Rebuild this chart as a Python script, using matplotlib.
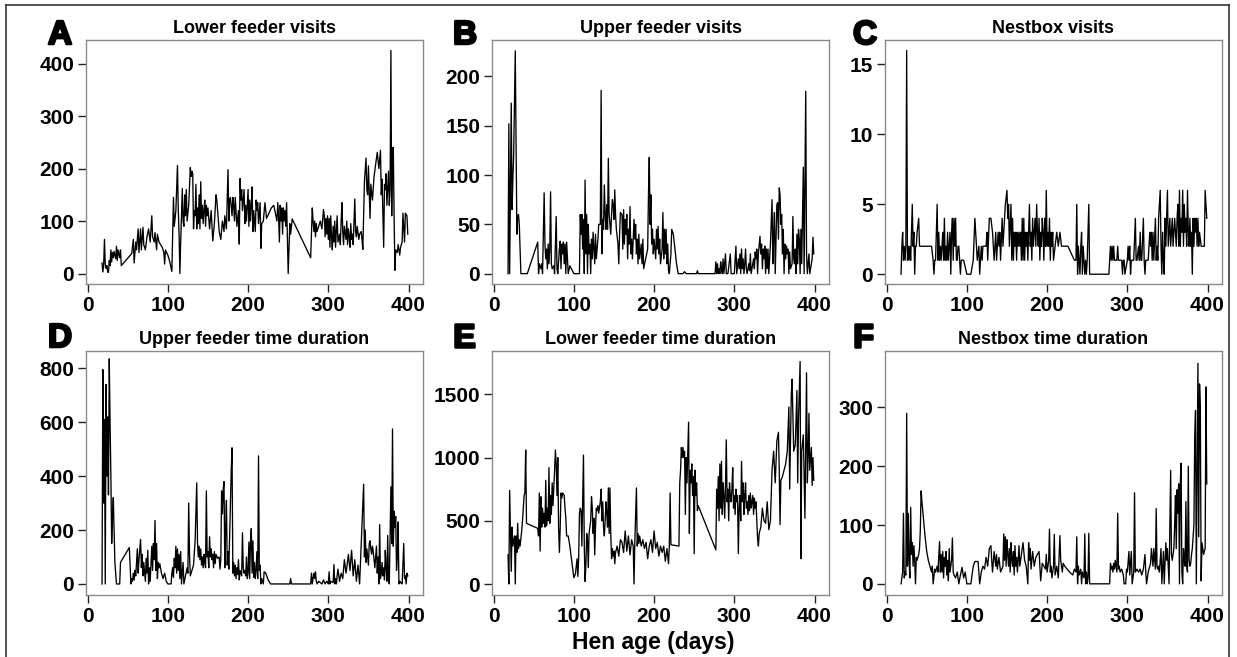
import matplotlib
matplotlib.use("Agg")
import matplotlib.pyplot as plt
import numpy as np
from matplotlib.lines import Line2D
import matplotlib.patheffects as pe

plt.rcParams['font.family'] = ['Liberation Sans', 'DejaVu Sans']

W, H = 1237, 657

# ---------------- A: lower feeder visits ----------------
lower_visits_day = [
    18, 19, 20, 21, 22, 23, 24, 25, 26, 27,
    28, 29, 30, 31, 32, 33, 34, 35, 36, 37,
    38, 40, 41, 42, 55, 57, 58, 60, 61, 63,
    64, 66, 67, 69, 70, 72, 74, 76, 78, 80,
    81, 83, 84, 86, 87, 89, 91, 93, 95, 96,
    97, 100, 102, 105, 107, 108, 110, 112, 113, 114,
    115, 116, 118, 119, 120, 121, 122, 123, 124, 126,
    128, 129, 130, 131, 132, 133, 134, 135, 136, 137,
    138, 139, 140, 141, 142, 143, 144, 145, 146, 147,
    148, 149, 150, 152, 154, 156, 158, 160, 161, 162,
    164, 166, 168, 170, 171, 173, 175, 176, 177, 178,
    180, 181, 182, 183, 184, 186, 188, 189, 190, 191,
    192, 193, 195, 196, 197, 198, 200, 201, 202, 203,
    204, 205, 206, 207, 208, 209, 210, 211, 212, 213,
    215, 216, 217, 219, 221, 223, 226, 229, 232, 236,
    237, 238, 239, 240, 241, 242, 243, 244, 245, 246,
    247, 248, 250, 252, 253, 255, 278, 280, 281, 282,
    283, 284, 285, 286, 288, 290, 292, 294, 295, 296,
    297, 298, 299, 300, 301, 302, 303, 304, 305, 306,
    307, 308, 309, 310, 311, 312, 314, 315, 316, 317,
    318, 319, 320, 322, 323, 324, 325, 326, 327, 328,
    329, 330, 331, 333, 334, 335, 336, 338, 339, 341,
    342, 343, 345, 347, 348, 349, 350, 352, 353, 355,
    357, 361, 363, 365, 366, 367, 369, 370, 371, 372,
    373, 375, 376, 377, 378, 379, 380, 381, 382, 383,
    384, 386, 387, 389, 390, 392, 393, 395, 396, 398, 399]
lower_visits = [
    20, 3, 15, 65, 18, 10, 15, 3, 2, 25,
    15, 45, 22, 40, 30, 42, 35, 28, 52, 25,
    45, 30, 45, 15, 38, 65, 20, 60, 45, 85,
    40, 85, 45, 88, 55, 45, 70, 85, 60, 110,
    70, 60, 78, 45, 75, 60, 55, 50, 40, 18,
    45, 35, 25, 4, 145, 90, 120, 206, 120, 75,
    0, 60, 162, 100, 90, 150, 110, 160, 100, 130,
    202, 185, 195, 190, 85, 120, 110, 170, 85, 125,
    95, 150, 85, 175, 105, 130, 95, 120, 140, 90,
    130, 110, 125, 85, 120, 62, 95, 150, 140, 120,
    80, 65, 100, 80, 110, 85, 198, 100, 140, 145,
    110, 145, 130, 100, 145, 90, 120, 56, 181, 140,
    160, 120, 160, 95, 130, 100, 160, 90, 140, 100,
    130, 165, 80, 120, 100, 80, 140, 120, 135, 95,
    135, 48, 95, 100, 135, 105, 115, 125, 130, 100,
    135, 110, 60, 130, 100, 125, 75, 125, 100, 120,
    90, 135, 0, 95, 75, 104, 30, 125, 100, 80,
    100, 70, 95, 80, 90, 100, 85, 122, 110, 70,
    105, 75, 110, 65, 105, 50, 110, 70, 45, 90,
    60, 100, 50, 80, 110, 60, 75, 55, 100, 135,
    80, 55, 90, 65, 100, 55, 85, 70, 50, 95,
    65, 75, 55, 142, 80, 70, 90, 65, 75, 80,
    65, 46, 175, 220, 160, 150, 205, 105, 170, 140,
    185, 231, 200, 235, 150, 180, 50, 170, 160, 190,
    130, 195, 130, 160, 425, 110, 240, 240, 105, 6,
    45, 40, 55, 35, 50, 60, 115, 60, 115, 110, 75]

# ---------------- B: upper feeder visits ----------------
upper_visits_day = [
    18, 19, 20, 22, 23, 24, 25, 26, 27, 28,
    29, 30, 31, 32, 33, 34, 36, 40, 42, 55,
    56, 57, 59, 60, 61, 63, 64, 65, 66, 67,
    68, 69, 70, 71, 72, 73, 75, 76, 78, 79,
    80, 82, 83, 84, 85, 86, 87, 88, 89, 90,
    91, 93, 95, 100, 107, 108, 109, 110, 111, 112,
    113, 114, 115, 116, 117, 118, 119, 120, 121, 122,
    123, 124, 125, 126, 127, 128, 130, 131, 133, 134,
    135, 136, 137, 138, 139, 140, 141, 142, 143, 144,
    145, 146, 147, 148, 149, 150, 151, 152, 153, 155,
    156, 157, 158, 160, 161, 162, 163, 164, 165, 166,
    167, 168, 169, 170, 171, 172, 173, 175, 176, 177,
    178, 179, 180, 181, 182, 184, 185, 186, 187, 192,
    193, 194, 195, 196, 197, 198, 199, 200, 201, 202,
    203, 204, 205, 206, 207, 208, 210, 211, 212, 213,
    214, 215, 216, 217, 218, 219, 221, 222, 224, 226,
    228, 230, 236, 238, 240, 253, 254, 255, 276, 277,
    278, 279, 280, 281, 282, 283, 284, 285, 286, 287,
    289, 290, 292, 295, 296, 300, 302, 303, 305, 306,
    307, 308, 309, 310, 311, 312, 313, 314, 315, 316,
    318, 319, 320, 321, 322, 324, 325, 326, 327, 328,
    329, 330, 332, 333, 334, 335, 336, 337, 338, 339,
    340, 341, 342, 343, 345, 347, 348, 349, 350, 351,
    352, 353, 354, 355, 356, 357, 358, 359, 360, 361,
    362, 363, 364, 365, 366, 367, 368, 369, 370, 372,
    373, 374, 375, 376, 377, 378, 379, 380, 381, 382,
    383, 384, 386, 387, 389, 390, 391, 393, 394, 396, 397, 398, 399]
upper_visits = [
    0, 152, 0, 173, 65, 95, 120, 175, 226, 130,
    40, 58, 60, 50, 25, 0, 0, 0, 0, 32,
    0, 10, 5, 10, 0, 82, 30, 15, 25, 5,
    30, 10, 25, 83, 10, 5, 8, 0, 58, 5,
    0, 25, 33, 5, 30, 20, 32, 10, 30, 0,
    32, 0, 8, 0, 0, 60, 40, 60, 25, 55,
    0, 95, 20, 60, 0, 50, 20, 30, 0, 35,
    15, 42, 25, 10, 40, 15, 35, 50, 50, 186,
    20, 55, 45, 90, 60, 45, 70, 45, 117, 60,
    50, 40, 60, 75, 70, 55, 85, 60, 45, 30,
    10, 40, 62, 60, 25, 65, 30, 55, 40, 60,
    15, 45, 30, 68, 20, 35, 15, 55, 35, 50,
    20, 35, 10, 40, 15, 30, 10, 35, 5, 25,
    80, 118, 50, 80, 30, 45, 20, 35, 25, 15,
    45, 25, 48, 20, 35, 10, 25, 62, 15, 45,
    20, 45, 10, 30, 3, 0, 20, 45, 40, 25,
    10, 0, 0, 2, 0, 0, 3, 0, 0, 12,
    0, 10, 0, 5, 0, 12, 5, 0, 15, 0,
    20, 0, 0, 20, 0, 0, 28, 0, 15, 5,
    20, 0, 25, 5, 15, 0, 10, 25, 5, 0,
    10, 3, 20, 0, 5, 15, 5, 22, 15, 25,
    0, 20, 38, 20, 30, 5, 25, 15, 28, 0,
    25, 5, 25, 0, 30, 75, 10, 40, 62, 0,
    35, 70, 72, 35, 87, 80, 50, 60, 20, 45,
    0, 30, 15, 28, 20, 25, 0, 22, 5, 10,
    58, 15, 10, 25, 0, 40, 10, 45, 35, 0,
    45, 10, 108, 0, 185, 20, 0, 20, 0, 10, 15, 37, 20]

# ---------------- C: nestbox visits ----------------
nest_visits_day = [
    18, 19, 20, 21, 22, 23, 24, 25, 26, 27,
    28, 29, 30, 32, 33, 34, 35, 36, 37, 38,
    40, 41, 42, 55, 56, 58, 59, 60, 61, 63,
    64, 65, 66, 67, 68, 70, 71, 72, 73, 74,
    75, 76, 77, 79, 80, 81, 82, 83, 84, 85,
    86, 87, 88, 89, 90, 91, 92, 93, 96, 100,
    105, 108, 110, 112, 113, 115, 116, 117, 118, 119,
    120, 122, 124, 125, 126, 128, 130, 132, 134, 135,
    136, 137, 139, 140, 141, 142, 144, 145, 146, 148,
    150, 151, 152, 153, 155, 156, 157, 158, 159, 160,
    161, 162, 163, 164, 165, 166, 167, 168, 169, 170,
    171, 172, 173, 174, 175, 176, 178, 179, 180, 181,
    182, 183, 184, 185, 186, 187, 188, 189, 190, 191,
    192, 193, 194, 195, 196, 197, 198, 199, 200, 201,
    202, 203, 204, 205, 206, 207, 208, 210, 212, 214,
    216, 218, 220, 222, 226, 230, 234, 236, 237, 238,
    239, 240, 241, 242, 243, 244, 245, 246, 247, 248,
    249, 250, 252, 253, 255, 277, 278, 279, 280, 281,
    282, 283, 284, 287, 288, 289, 290, 293, 294, 295,
    296, 297, 300, 301, 302, 303, 304, 305, 307, 308,
    310, 311, 312, 314, 315, 316, 317, 318, 320, 321,
    322, 323, 324, 326, 327, 328, 329, 330, 331, 332,
    333, 335, 336, 337, 338, 339, 341, 342, 343, 344,
    345, 346, 347, 348, 349, 350, 351, 352, 353, 354,
    355, 356, 357, 358, 359, 360, 361, 362, 363, 364,
    365, 366, 367, 368, 369, 370, 371, 372, 373, 374,
    375, 376, 377, 378, 379, 380, 381, 382, 383, 384,
    385, 386, 387, 388, 389, 390, 392, 394, 396, 397, 399]
nest_visits = [
    0, 2, 3, 1, 2, 1, 2, 16, 1, 2,
    1, 2, 1, 5, 2, 3, 0, 2, 2, 3,
    4, 2, 2, 2, 2, 1, 0, 1, 1, 5,
    1, 3, 1, 2, 1, 3, 1, 4, 1, 2,
    1, 3, 1, 3, 0, 3, 4, 1, 4, 2,
    4, 1, 1, 2, 2, 1, 0, 1, 1, 0,
    0, 1, 4, 2, 1, 2, 0, 1, 2, 1,
    2, 2, 2, 3, 1, 4, 4, 3, 1, 2,
    3, 1, 3, 2, 3, 1, 4, 2, 3, 5,
    6, 4, 5, 2, 5, 1, 4, 1, 3, 2,
    3, 1, 3, 2, 3, 2, 3, 1, 4, 1,
    4, 1, 3, 2, 3, 1, 5, 2, 3, 1,
    4, 2, 3, 4, 2, 5, 3, 2, 4, 1,
    3, 2, 4, 3, 1, 4, 2, 6, 2, 3,
    2, 4, 1, 3, 2, 3, 1, 2, 3, 2,
    3, 2, 2, 2, 2, 1.5, 1, 1, 5, 0,
    2, 1, 0, 2, 3, 0, 2, 1, 0, 1,
    0, 1, 5, 0, 0, 0, 1, 2, 1, 2,
    1, 2, 1, 1, 2, 1, 1, 1, 0, 1,
    1, 0, 1, 2, 1, 2, 0, 1, 1, 1,
    4, 1, 1, 2, 1, 3, 1, 1, 4, 1,
    0, 1, 1, 1, 2, 3, 2, 3, 1, 3,
    1, 4, 1, 2, 1, 4, 6, 2, 0, 3,
    1, 0, 4, 2, 4, 6, 2, 3, 4, 2,
    3, 4, 2, 3, 4, 3, 2, 4, 5, 2,
    6, 2, 4, 3, 6, 2, 5, 3, 4, 2,
    6, 3, 2, 4, 2, 3, 0, 4, 2, 4,
    3, 4, 2, 4, 2, 3, 2, 2, 2, 6, 4]

# ---------------- D: upper feeder time duration ----------------
upper_time_day = [
    18, 19, 20, 21, 22, 23, 24, 25, 26, 27,
    28, 29, 30, 31, 32, 33, 34, 36, 38, 40,
    41, 45, 52, 54, 55, 56, 57, 58, 59, 60,
    62, 63, 64, 66, 67, 68, 69, 70, 72, 73,
    74, 75, 76, 77, 78, 80, 81, 82, 83, 84,
    85, 86, 87, 88, 89, 90, 92, 94, 96, 98,
    100, 104, 105, 106, 107, 108, 109, 110, 111, 112,
    113, 114, 115, 116, 117, 119, 120, 122, 124, 125,
    126, 127, 128, 130, 132, 134, 136, 137, 138, 139,
    140, 141, 142, 143, 144, 145, 146, 147, 148, 149,
    150, 151, 152, 153, 154, 155, 156, 157, 158, 159,
    160, 162, 164, 165, 166, 167, 168, 169, 170, 171,
    172, 173, 174, 175, 176, 178, 179, 180, 181, 182,
    183, 184, 185, 186, 187, 188, 189, 190, 192, 193,
    194, 195, 196, 197, 198, 199, 200, 201, 202, 203,
    204, 205, 206, 207, 208, 209, 210, 211, 212, 213,
    214, 215, 216, 217, 219, 220, 222, 225, 228, 252,
    253, 254, 278, 279, 280, 282, 283, 284, 285, 286,
    288, 290, 292, 294, 296, 298, 300, 301, 302, 303,
    306, 307, 308, 309, 310, 311, 312, 314, 316, 318,
    320, 322, 323, 325, 327, 329, 331, 333, 335, 337,
    339, 344, 345, 346, 347, 348, 349, 350, 351, 352,
    353, 354, 355, 356, 358, 360, 361, 362, 363, 364,
    365, 366, 367, 368, 369, 370, 371, 372, 373, 374,
    375, 376, 378, 379, 380, 381, 382, 383, 384, 385,
    386, 387, 388, 389, 390, 392, 394, 395, 396, 397, 398, 399]
upper_time = [
    0, 795, 300, 610, 0, 740, 400, 620, 330, 835,
    600, 400, 150, 250, 320, 200, 80, 0, 0, 0,
    80, 100, 135, 0, 20, 10, 40, 15, 50, 30,
    130, 40, 90, 165, 60, 110, 30, 80, 10, 95,
    40, 125, 0, 60, 10, 140, 50, 150, 90, 235,
    50, 150, 20, 80, 60, 75, 40, 20, 40, 10,
    0, 0, 40, 60, 25, 95, 60, 140, 40, 130,
    50, 110, 20, 120, 0, 80, 0, 30, 60, 40,
    300, 110, 30, 50, 70, 160, 375, 150, 100, 140,
    90, 130, 70, 100, 60, 110, 80, 60, 345, 100,
    120, 60, 175, 100, 130, 90, 110, 60, 120, 75,
    110, 95, 100, 55, 90, 345, 260, 350, 380, 60,
    200, 310, 70, 120, 55, 300, 420, 505, 40, 80,
    30, 70, 20, 60, 35, 90, 15, 50, 30, 190,
    60, 40, 50, 30, 100, 20, 40, 155, 20, 160,
    205, 40, 160, 25, 80, 20, 50, 120, 20, 475,
    50, 70, 0, 20, 0, 45, 40, 15, 0, 0,
    20, 0, 0, 40, 0, 40, 20, 45, 10, 0,
    10, 5, 0, 15, 0, 10, 0, 45, 0, 10,
    5, 72, 0, 20, 0, 30, 55, 10, 40, 20,
    90, 40, 60, 110, 50, 125, 30, 90, 10, 70,
    0, 370, 100, 200, 80, 130, 100, 70, 150, 160,
    130, 110, 140, 120, 60, 140, 40, 100, 0, 220,
    20, 40, 80, 30, 60, 15, 125, 60, 10, 180,
    20, 0, 360, 150, 575, 140, 270, 210, 250, 50,
    100, 230, 0, 10, 5, 0, 150, 20, 30, 0, 40, 30]

# ---------------- E: lower feeder time duration ----------------
lower_time_day = [
    18, 19, 20, 21, 22, 23, 24, 26, 27, 28,
    29, 30, 31, 32, 33, 35, 36, 37, 38, 39,
    40, 41, 55, 56, 57, 58, 59, 60, 61, 62,
    63, 64, 65, 66, 67, 68, 69, 70, 71, 72,
    73, 74, 76, 77, 78, 79, 80, 81, 82, 83,
    84, 85, 86, 88, 89, 90, 91, 93, 95, 97,
    99, 100, 102, 104, 105, 106, 107, 108, 109, 110,
    111, 112, 113, 114, 115, 116, 117, 118, 119, 121,
    122, 123, 124, 125, 126, 127, 128, 129, 130, 131,
    133, 134, 135, 136, 137, 138, 139, 140, 141, 142,
    143, 144, 145, 146, 147, 148, 149, 150, 151, 152,
    154, 156, 158, 160, 162, 164, 166, 168, 170, 172,
    174, 175, 176, 178, 179, 180, 181, 182, 184, 186,
    188, 190, 192, 194, 196, 198, 200, 202, 204, 206,
    208, 210, 212, 214, 216, 218, 219, 220, 221, 231,
    232, 233, 234, 235, 236, 237, 238, 239, 240, 241,
    242, 243, 244, 245, 246, 247, 248, 249, 250, 251,
    252, 253, 254, 255, 277, 278, 279, 280, 281, 282,
    283, 284, 285, 286, 287, 288, 289, 290, 291, 292,
    293, 294, 295, 296, 297, 298, 299, 300, 301, 302,
    303, 304, 305, 306, 307, 308, 309, 310, 311, 312,
    313, 314, 315, 316, 317, 318, 319, 320, 321, 322,
    323, 324, 325, 326, 327, 328, 329, 330, 331, 333,
    335, 337, 339, 341, 343, 345, 347, 349, 351, 353,
    355, 356, 357, 358, 360, 362, 364, 366, 368, 369,
    371, 372, 374, 376, 378, 379, 380, 382, 383, 384,
    386, 388, 390, 391, 392, 393, 394, 396, 397, 398, 399]
lower_time = [
    230, 0, 740, 400, 100, 450, 300, 380, 0, 380,
    250, 480, 280, 350, 300, 420, 500, 600, 700, 720,
    1060, 480, 440, 380, 720, 260, 690, 450, 600, 480,
    560, 450, 820, 460, 600, 500, 920, 480, 700, 550,
    800, 620, 900, 1060, 950, 700, 1000, 440, 250, 450,
    720, 680, 720, 700, 600, 520, 380, 380, 300, 200,
    100, 50, 80, 200, 60, 200, 560, 600, 580, 300,
    650, 1020, 300, 20, 150, 400, 350, 130, 400, 500,
    690, 600, 400, 520, 230, 450, 600, 580, 620, 560,
    650, 750, 500, 650, 450, 380, 500, 650, 560, 450,
    760, 400, 760, 400, 200, 280, 220, 260, 160, 250,
    300, 220, 350, 330, 250, 420, 260, 380, 230, 350,
    300, 0, 330, 760, 300, 400, 320, 380, 300, 350,
    280, 330, 200, 300, 350, 250, 420, 280, 330, 220,
    300, 250, 300, 180, 280, 160, 300, 720, 310, 300,
    800, 900, 1080, 1000, 1080, 1000, 1050, 550, 1000, 800,
    1050, 1280, 400, 900, 800, 950, 700, 850, 240, 900,
    700, 800, 580, 620, 270, 750, 600, 850, 500, 950,
    600, 970, 550, 800, 700, 520, 780, 1140, 650, 750,
    500, 800, 700, 650, 750, 920, 600, 700, 550, 750,
    650, 700, 240, 600, 700, 500, 970, 650, 800, 550,
    700, 800, 600, 650, 550, 700, 580, 720, 600, 650,
    700, 550, 680, 600, 650, 500, 360, 300, 400, 450,
    600, 500, 480, 650, 430, 500, 900, 1050, 800, 1130,
    1200, 900, 470, 820, 850, 900, 950, 1050, 1400, 750,
    1500, 1620, 1050, 1100, 1530, 800, 1300, 1760, 200, 1050,
    1180, 520, 1670, 800, 1000, 1350, 900, 1080, 780, 1000, 820]

# ---------------- F: nestbox time duration ----------------
nest_time_day = [
    18, 19, 20, 21, 22, 23, 24, 25, 26, 27,
    28, 29, 30, 31, 32, 33, 34, 35, 36, 37,
    38, 40, 41, 42, 43, 44, 46, 48, 50, 52,
    54, 56, 57, 58, 60, 61, 63, 64, 66, 67,
    68, 69, 70, 71, 72, 73, 74, 75, 76, 77,
    78, 79, 81, 82, 83, 84, 86, 88, 90, 92,
    94, 96, 98, 100, 105, 108, 110, 114, 116, 118,
    120, 122, 124, 126, 128, 130, 131, 132, 134, 136,
    137, 138, 140, 142, 145, 146, 147, 148, 149, 150,
    151, 152, 153, 154, 155, 156, 157, 158, 159, 160,
    161, 162, 163, 164, 165, 166, 167, 170, 172, 174,
    176, 177, 178, 179, 180, 182, 184, 186, 190, 192,
    194, 196, 198, 199, 200, 202, 203, 204, 205, 206,
    208, 209, 210, 212, 214, 216, 217, 218, 219, 220,
    222, 225, 228, 232, 234, 236, 237, 238, 239, 240,
    242, 243, 244, 246, 247, 248, 249, 250, 251, 252,
    253, 254, 276, 278, 279, 280, 281, 282, 283, 284,
    285, 287, 288, 289, 290, 291, 293, 295, 296, 298,
    299, 300, 302, 303, 305, 306, 308, 309, 310, 312,
    314, 316, 318, 320, 322, 323, 324, 326, 327, 329,
    330, 332, 333, 335, 336, 337, 338, 339, 340, 342,
    343, 345, 346, 348, 349, 350, 352, 354, 355, 356,
    358, 359, 360, 361, 362, 363, 364, 365, 366, 367,
    368, 369, 370, 371, 372, 373, 374, 375, 376, 377,
    378, 379, 380, 381, 383, 384, 385, 386, 388, 389,
    390, 391, 392, 393, 394, 395, 396, 397, 398, 399]
nest_time = [
    0, 10, 20, 120, 10, 20, 15, 290, 30, 120,
    40, 10, 130, 50, 70, 30, 65, 40, 0, 45,
    40, 50, 60, 90, 158, 140, 110, 80, 55, 40,
    30, 20, 30, 0, 25, 20, 30, 20, 72, 20,
    50, 20, 55, 10, 45, 30, 55, 15, 40, 5,
    60, 20, 40, 78, 20, 15, 10, 20, 0, 15,
    28, 10, 20, 0, 0, 30, 38, 38, 0, 20,
    30, 25, 45, 30, 60, 65, 40, 20, 55, 30,
    50, 25, 45, 20, 30, 85, 40, 80, 30, 75,
    50, 30, 60, 20, 70, 40, 30, 55, 15, 65,
    30, 45, 20, 40, 65, 30, 40, 70, 40, 30,
    0, 70, 40, 60, 25, 55, 30, 45, 55, 5,
    35, 30, 25, 50, 20, 40, 93, 20, 30, 10,
    30, 84, 15, 30, 10, 82, 40, 30, 20, 35,
    30, 25, 20, 15, 25, 20, 80, 0, 30, 15,
    25, 0, 20, 10, 85, 0, 20, 0, 10, 86,
    0, 0, 0, 0, 35, 25, 30, 20, 35, 25,
    40, 20, 120, 25, 30, 20, 25, 15, 0, 0,
    25, 20, 55, 15, 55, 0, 20, 155, 20, 25,
    20, 25, 15, 25, 50, 20, 0, 20, 25, 35,
    60, 30, 60, 25, 128, 30, 25, 30, 20, 60,
    0, 55, 0, 70, 40, 60, 0, 193, 50, 40,
    60, 100, 150, 60, 160, 120, 170, 0, 170, 205,
    20, 0, 60, 40, 30, 140, 30, 20, 200, 40,
    30, 35, 50, 60, 100, 250, 295, 0, 375, 80,
    340, 300, 5, 70, 60, 50, 55, 60, 335, 170]

panels = [
    ("A", "Lower feeder visits", lower_visits_day, lower_visits, (-20, 445), [0, 100, 200, 300, 400]),
    ("B", "Upper feeder visits", upper_visits_day, upper_visits, (-10.5, 237), [0, 50, 100, 150, 200]),
    ("C", "Nestbox visits", nest_visits_day, nest_visits, (-0.7, 16.75), [0, 5, 10, 15]),
    ("D", "Upper feeder time duration", upper_time_day, upper_time, (-41, 864), [0, 200, 400, 600, 800]),
    ("E", "Lower feeder time duration", lower_time_day, lower_time, (-87, 1843), [0, 500, 1000, 1500]),
    ("F", "Nestbox time duration", nest_time_day, nest_time, (-19, 396), [0, 100, 200, 300]),
]

# axes boxes in pixels: (left, top)
col_left = [86, 492, 885]
row_top = [40, 351]
box_w, box_h = 337, 244
letter_x = [48, 453, 853]
letter_base = [44, 347]

fig = plt.figure(figsize=(W / 100, H / 100), dpi=100)

for i, (letter, title, days, vals, ylim, yticks) in enumerate(panels):
    r, c = divmod(i, 3)
    left = col_left[c]
    top = row_top[r]
    ax = fig.add_axes([left / W, 1 - (top + box_h) / H, box_w / W, box_h / H])
    ax.plot(np.asarray(days), np.asarray(vals, dtype=float), color="black", lw=0.95)
    ax.set_xlim(-2, 418)
    ax.set_ylim(*ylim)
    ax.set_xticks([0, 100, 200, 300, 400])
    ax.set_yticks(yticks)
    for s in ax.spines.values():
        s.set_color("#8a8a8a")
        s.set_linewidth(1.0)
    ax.tick_params(direction="out", length=6, width=1.0, color="#222222",
                   labelsize=15, pad=2.5)
    for lab in ax.get_xticklabels() + ax.get_yticklabels():
        lab.set_fontweight("bold")
    ax.set_title(title, fontsize=13, fontweight="bold", pad=5)
    fig.text(letter_x[c] / W, 1 - letter_base[r] / H, letter, ha="left", va="baseline",
             fontsize=24, fontweight="bold", color="black",
             path_effects=[pe.withStroke(linewidth=1.8, foreground="black")])

fig.text(653 / W, 1 - 642 / H, "Hen age (days)", ha="center", va="center",
         fontsize=16.5, fontweight="bold")

# outer frame (top, left, right)
frame_kw = dict(color="#333333", lw=1.2, transform=fig.transFigure)
fig.add_artist(Line2D([6 / W, 1229 / W], [1 - 5 / H, 1 - 5 / H], **frame_kw))
fig.add_artist(Line2D([6 / W, 6 / W], [0, 1 - 5 / H], **frame_kw))
fig.add_artist(Line2D([1229 / W, 1229 / W], [0, 1 - 5 / H], **frame_kw))

fig.savefig("out.png", dpi=100, facecolor="white")
